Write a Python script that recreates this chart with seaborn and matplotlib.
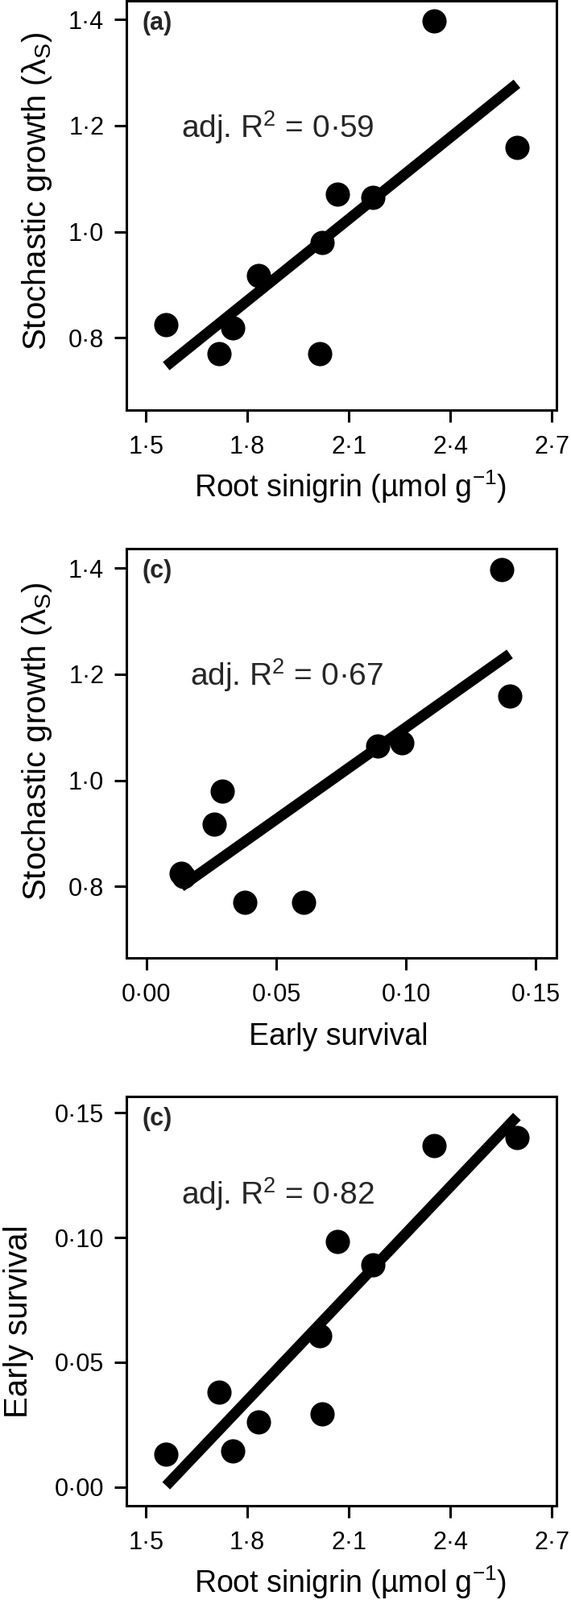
import numpy as np
import pandas as pd
import matplotlib
matplotlib.use("Agg")
import matplotlib.pyplot as plt
import seaborn as sns

# ---- data (one value per site) ----
root_sinigrin = [1.560, 1.717, 1.757, 1.834, 2.015, 2.020, 2.066, 2.172, 2.352, 2.597]
early_survival = [0.0133, 0.0380, 0.0144, 0.0262, 0.0607, 0.0292, 0.0984, 0.0890, 0.1370, 0.1400]
stoch_growth = [0.825, 0.770, 0.819, 0.917, 0.770, 0.979, 1.070, 1.065, 1.397, 1.159]

r2_labels = ["adj. R$^2$ = 0·59", "adj. R$^2$ = 0·67", "adj. R$^2$ = 0·82"]
panel_labels = ["(a)", "(c)", "(c)"]

sinigrin_ticks = [1.5, 1.8, 2.1, 2.4, 2.7]
sinigrin_ticklabels = ["1·5", "1·8", "2·1", "2·4", "2·7"]
growth_ticks = [0.8, 1.0, 1.2, 1.4]
growth_ticklabels = ["0·8", "1·0", "1·2", "1·4"]
surv_ticks = [0.0, 0.05, 0.10, 0.15]
surv_ticklabels = ["0·00", "0·05", "0·10", "0·15"]

df = pd.DataFrame({"sinigrin": root_sinigrin, "survival": early_survival,
                   "growth": stoch_growth})

sns.set_style("ticks")
plt.rcParams["font.family"] = ["Liberation Sans", "DejaVu Sans"]
plt.rcParams["mathtext.fontset"] = "custom"
plt.rcParams["mathtext.rm"] = "Liberation Sans"
plt.rcParams["mathtext.it"] = "Liberation Sans:italic"
plt.rcParams["mathtext.bf"] = "Liberation Sans:bold"

W, H = 709, 1986
fig = plt.figure(figsize=(W / 100, H / 100), dpi=100)

lab_growth = "Stochastic growth (λ$_\\mathrm{S}$)"
lab_sin = "Root sinigrin (µmol g$^{-1}$)"
lab_surv = "Early survival"

specs = [
    dict(x="sinigrin", y="growth", xlim=(1.4425, 2.714), ylim=(0.664, 1.435),
         xt=sinigrin_ticks, xtl=sinigrin_ticklabels, yt=growth_ticks, ytl=growth_ticklabels,
         xl=lab_sin, yl=lab_growth, txt=(0.128, 0.665), xlx=0.52, ylx=-0.187, yly=0.535),
    dict(x="survival", y="growth", xlim=(-0.0077, 0.158), ylim=(0.665, 1.437),
         xt=surv_ticks, xtl=surv_ticklabels, yt=growth_ticks, ytl=growth_ticklabels,
         xl=lab_surv, yl=lab_growth, txt=(0.148, 0.665), xlx=0.493, ylx=-0.187, yly=0.53),
    dict(x="sinigrin", y="survival", xlim=(1.4425, 2.714), ylim=(-0.0075, 0.1566),
         xt=sinigrin_ticks, xtl=sinigrin_ticklabels, yt=surv_ticks, ytl=surv_ticklabels,
         xl=lab_sin, yl=lab_surv, txt=(0.128, 0.736), xlx=0.52, ylx=-0.230, yly=0.45),
]

left_px, right_px = 157, 691
box_h = 508
for k, sp in enumerate(specs):
    top_px = 1 + 680 * k
    bot_px = top_px + box_h
    ax = fig.add_axes([left_px / W, 1 - bot_px / H, (right_px - left_px) / W, box_h / H])
    sns.regplot(data=df, x=sp["x"], y=sp["y"], ax=ax, ci=None, truncate=True,
                color="black",
                scatter_kws=dict(s=470, linewidths=0, alpha=1, zorder=3),
                line_kws=dict(lw=9.5, solid_capstyle="butt", zorder=2))
    ax.set_xlim(*sp["xlim"])
    ax.set_ylim(*sp["ylim"])
    ax.set_xticks(sp["xt"])
    ax.set_xticklabels(sp["xtl"])
    ax.set_yticks(sp["yt"])
    ax.set_yticklabels(sp["ytl"])
    for s in ax.spines.values():
        s.set_visible(True)
        s.set_linewidth(2.2)
        s.set_color("black")
    ax.tick_params(axis="both", length=11, width=2.2, color="black",
                   labelsize=22, labelcolor="black")
    ax.tick_params(axis="x", pad=11)
    ax.tick_params(axis="y", pad=9)
    ax.set_xlabel(sp["xl"], fontsize=27, color="black")
    ax.set_ylabel(sp["yl"], fontsize=29, color="black")
    ax.xaxis.label.set_verticalalignment("baseline")
    ax.yaxis.label.set_verticalalignment("baseline")
    ax.xaxis.set_label_coords(sp["xlx"], -0.2126)
    ax.yaxis.set_label_coords(sp["ylx"], sp["yly"])
    ax.text(0.036, 0.944, panel_labels[k], transform=ax.transAxes,
            fontsize=22, fontweight="bold", ha="left", va="center")
    ax.text(sp["txt"][0], sp["txt"][1], r2_labels[k], transform=ax.transAxes,
            fontsize=28, ha="left", va="baseline")

fig.savefig("out.png", dpi=100)
